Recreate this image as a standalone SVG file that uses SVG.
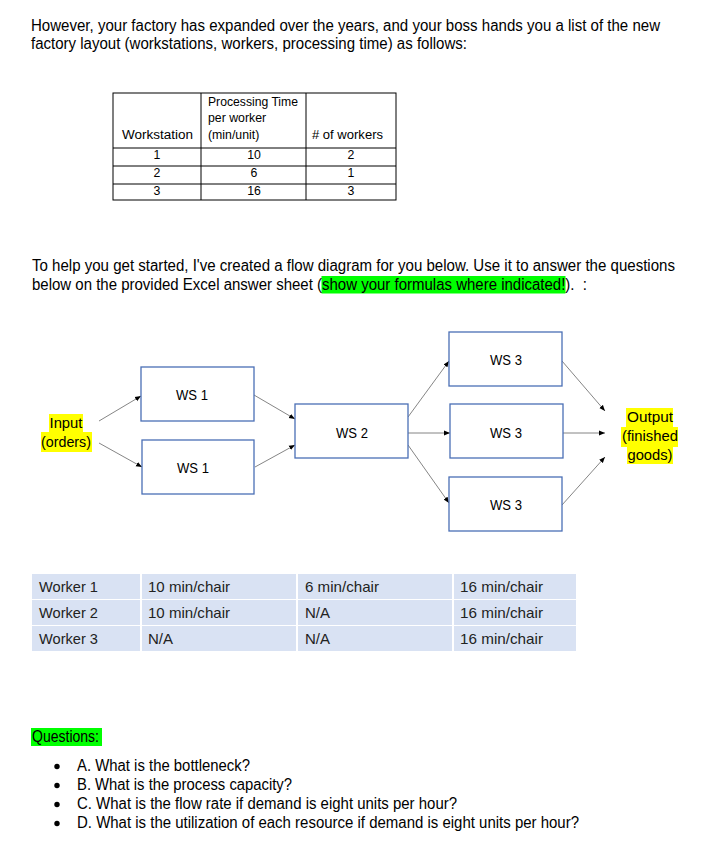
<svg xmlns="http://www.w3.org/2000/svg" width="717" height="847" viewBox="0 0 717 847">
<defs>
<style>
.t{font-family:"Liberation Sans",Arial,sans-serif;font-size:15.8px;fill:#000}
.c{font-family:"Liberation Sans",Arial,sans-serif;font-size:12.3px;fill:#000}
.b{font-family:"Liberation Sans",Arial,sans-serif;font-size:14.4px;fill:#000}
.w{font-family:"Liberation Sans",Arial,sans-serif;font-size:15px;fill:#222}
.l{font-family:"Liberation Sans",Arial,sans-serif;font-size:14.8px;fill:#000;text-anchor:middle}
.box{fill:#fff;stroke:#4a6fb5;stroke-width:1.3}
.cn{stroke:#777;stroke-width:0.9;fill:none;marker-end:url(#ah)}
.tl{stroke:#000;stroke-width:1;fill:none}
.cell{fill:#d9e2f3}
</style>
<marker id="ah" viewBox="0 0 10 10" refX="10" refY="5" markerWidth="6" markerHeight="6" markerUnits="userSpaceOnUse" orient="auto">
<path d="M0,1 L10,5 L0,9 z" fill="#000"/>
</marker>
</defs>
<rect width="717" height="847" fill="#fff"/>

<g id="intro">
<text class="t" x="31" y="30.5" textLength="629" lengthAdjust="spacingAndGlyphs">However, your factory has expanded over the years, and your boss hands you a list of the new</text>
<text class="t" x="31" y="49" textLength="436" lengthAdjust="spacingAndGlyphs">factory layout (workstations, workers, processing time) as follows:</text>
</g>

<g id="layout-table">
<rect x="113" y="93" width="283" height="107" fill="#fff" class="tl"/>
<line class="tl" x1="201" y1="93" x2="201" y2="200"/>
<line class="tl" x1="306" y1="93" x2="306" y2="200"/>
<line class="tl" x1="113" y1="148" x2="396" y2="148"/>
<line class="tl" x1="113" y1="166" x2="396" y2="166"/>
<line class="tl" x1="113" y1="184" x2="396" y2="184"/>
<text class="c" x="208" y="106" textLength="90" lengthAdjust="spacingAndGlyphs">Processing Time</text>
<text class="c" x="208" y="122">per worker</text>
<text class="c" x="208" y="139">(min/unit)</text>
<text class="c" x="122" y="139" textLength="71" lengthAdjust="spacingAndGlyphs">Workstation</text>
<text class="c" x="312" y="139" textLength="71" lengthAdjust="spacingAndGlyphs"># of workers</text>
<text class="c" x="157" y="159" text-anchor="middle">1</text>
<text class="c" x="157" y="177" text-anchor="middle">2</text>
<text class="c" x="157" y="195" text-anchor="middle">3</text>
<text class="c" x="254" y="159" text-anchor="middle">10</text>
<text class="c" x="254" y="177" text-anchor="middle">6</text>
<text class="c" x="254" y="195" text-anchor="middle">16</text>
<text class="c" x="351" y="159" text-anchor="middle">2</text>
<text class="c" x="351" y="177" text-anchor="middle">1</text>
<text class="c" x="351" y="195" text-anchor="middle">3</text>
</g>

<g id="para2">
<text class="t" x="32" y="270.7" textLength="643" lengthAdjust="spacingAndGlyphs">To help you get started, I've created a flow diagram for you below. Use it to answer the questions</text>
<rect x="321.5" y="276" width="244" height="17.5" fill="#00ff00"/>
<text class="t" x="32" y="289.5" textLength="555" lengthAdjust="spacingAndGlyphs" xml:space="preserve">below on the provided Excel answer sheet (show your formulas where indicated!).  :</text>
</g>

<g id="connectors">
<line class="cn" x1="99" y1="421" x2="141" y2="396"/>
<line class="cn" x1="99" y1="443" x2="142" y2="467"/>
<line class="cn" x1="254" y1="395" x2="295" y2="419"/>
<line class="cn" x1="255" y1="467" x2="295" y2="445"/>
<line class="cn" x1="408" y1="417" x2="449" y2="361"/>
<line class="cn" x1="408" y1="433" x2="450" y2="433"/>
<line class="cn" x1="408" y1="445" x2="449" y2="503"/>
<line class="cn" x1="562" y1="361" x2="605" y2="411"/>
<line class="cn" x1="563" y1="433" x2="605" y2="433"/>
<line class="cn" x1="562" y1="505" x2="605" y2="457"/>
</g>

<g id="input">
<rect x="49" y="414" width="34" height="18" fill="#ffff00"/>
<rect x="41" y="432" width="51" height="20" fill="#ffff00"/>
<text class="l" x="66" y="428">Input</text>
<text class="l" x="66" y="447" textLength="50" lengthAdjust="spacingAndGlyphs">(orders)</text>
</g>
<g id="ws1a"><rect class="box" x="141" y="367" width="113" height="54"/><text class="b" x="176" y="399.5" textLength="32" lengthAdjust="spacingAndGlyphs">WS 1</text></g>
<g id="ws1b"><rect class="box" x="142" y="440" width="112" height="54"/><text class="b" x="177" y="472.5" textLength="32" lengthAdjust="spacingAndGlyphs">WS 1</text></g>
<g id="ws2"><rect class="box" x="295" y="404" width="113" height="54"/><text class="b" x="336" y="437.5" textLength="32" lengthAdjust="spacingAndGlyphs">WS 2</text></g>
<g id="ws3a"><rect class="box" x="449" y="332" width="113" height="54"/><text class="b" x="490" y="364.5" textLength="32" lengthAdjust="spacingAndGlyphs">WS 3</text></g>
<g id="ws3b"><rect class="box" x="450" y="404" width="113" height="54"/><text class="b" x="490" y="437.5" textLength="32" lengthAdjust="spacingAndGlyphs">WS 3</text></g>
<g id="ws3c"><rect class="box" x="449" y="477" width="113" height="54"/><text class="b" x="490" y="509.5" textLength="32" lengthAdjust="spacingAndGlyphs">WS 3</text></g>
<g id="output">
<rect x="626" y="408" width="47" height="19" fill="#ffff00"/>
<rect x="621" y="427" width="57" height="20" fill="#ffff00"/>
<rect x="627" y="447" width="46" height="17" fill="#ffff00"/>
<text class="l" x="650" y="422" textLength="46" lengthAdjust="spacingAndGlyphs">Output</text>
<text class="l" x="650" y="441" textLength="56" lengthAdjust="spacingAndGlyphs">(finished</text>
<text class="l" x="650" y="460" textLength="45" lengthAdjust="spacingAndGlyphs">goods)</text>
</g>

<g id="worker-table">
<rect class="cell" x="32" y="574" width="108" height="25"/>
<rect class="cell" x="142" y="574" width="154" height="25"/>
<rect class="cell" x="298" y="574" width="154" height="25"/>
<rect class="cell" x="454" y="574" width="122" height="25"/>
<rect class="cell" x="32" y="600" width="108" height="25"/>
<rect class="cell" x="142" y="600" width="154" height="25"/>
<rect class="cell" x="298" y="600" width="154" height="25"/>
<rect class="cell" x="454" y="600" width="122" height="25"/>
<rect class="cell" x="32" y="626" width="108" height="25"/>
<rect class="cell" x="142" y="626" width="154" height="25"/>
<rect class="cell" x="298" y="626" width="154" height="25"/>
<rect class="cell" x="454" y="626" width="122" height="25"/>
<text class="w" x="39" y="592" textLength="59" lengthAdjust="spacingAndGlyphs">Worker 1</text>
<text class="w" x="39" y="618" textLength="59" lengthAdjust="spacingAndGlyphs">Worker 2</text>
<text class="w" x="39" y="644" textLength="59" lengthAdjust="spacingAndGlyphs">Worker 3</text>
<text class="w" x="148" y="592" textLength="82" lengthAdjust="spacingAndGlyphs">10 min/chair</text>
<text class="w" x="148" y="618" textLength="82" lengthAdjust="spacingAndGlyphs">10 min/chair</text>
<text class="w" x="148" y="644">N/A</text>
<text class="w" x="305" y="592" textLength="74" lengthAdjust="spacingAndGlyphs">6 min/chair</text>
<text class="w" x="305" y="618">N/A</text>
<text class="w" x="305" y="644">N/A</text>
<text class="w" x="460" y="592" textLength="83" lengthAdjust="spacingAndGlyphs">16 min/chair</text>
<text class="w" x="460" y="618" textLength="83" lengthAdjust="spacingAndGlyphs">16 min/chair</text>
<text class="w" x="460" y="644" textLength="83" lengthAdjust="spacingAndGlyphs">16 min/chair</text>
</g>

<g id="questions">
<rect x="31" y="728" width="71" height="18" fill="#00ff00"/>
<text class="t" x="32" y="741.5" textLength="67" lengthAdjust="spacingAndGlyphs">Questions:</text>
<circle cx="57" cy="766.5" r="2.7" fill="#000"/>
<circle cx="57" cy="785.5" r="2.7" fill="#000"/>
<circle cx="57" cy="804.5" r="2.7" fill="#000"/>
<circle cx="57" cy="823.5" r="2.7" fill="#000"/>
<text class="t" x="77" y="771" textLength="173" lengthAdjust="spacingAndGlyphs">A. What is the bottleneck?</text>
<text class="t" x="77" y="790" textLength="215" lengthAdjust="spacingAndGlyphs">B. What is the process capacity?</text>
<text class="t" x="77" y="809" textLength="380" lengthAdjust="spacingAndGlyphs">C. What is the flow rate if demand is eight units per hour?</text>
<text class="t" x="77" y="828" textLength="502" lengthAdjust="spacingAndGlyphs">D. What is the utilization of each resource if demand is eight units per hour?</text>
</g>
</svg>
